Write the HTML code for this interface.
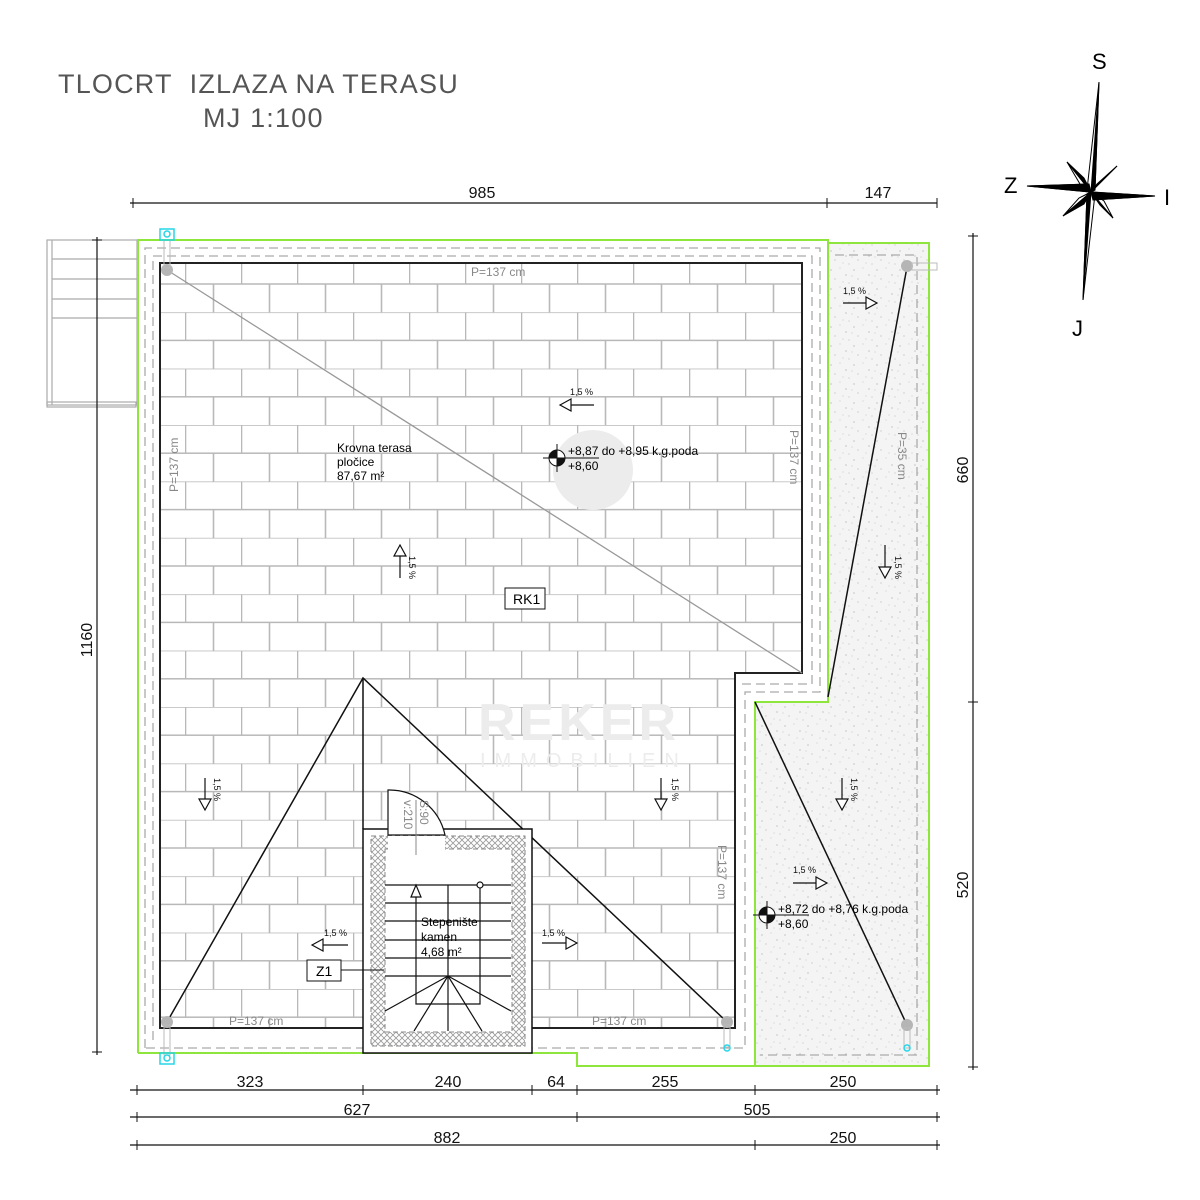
<!DOCTYPE html>
<html><head><meta charset="utf-8"><style>
html,body{margin:0;padding:0;background:#fff;}
svg{display:block;}
text{font-family:"Liberation Sans",sans-serif;}
</style></head><body>
<svg width="1200" height="1200" viewBox="0 0 1200 1200" xmlns="http://www.w3.org/2000/svg">
<defs>
<pattern id="tiles" x="185" y="255.8" width="56" height="56.4" patternUnits="userSpaceOnUse">
<rect width="56" height="56.4" fill="#fff"/>
<path d="M0 0H56M0 28.2H56M0.5 0V28.2M28.5 28.2V56.4" stroke="#b8b8b8" stroke-width="1.6" fill="none"/>
</pattern>
<pattern id="grav" x="0" y="0" width="23" height="19" patternUnits="userSpaceOnUse">
<rect width="23" height="19" fill="#f4f4f4"/>
<circle cx="3" cy="4" r="0.6" fill="#aaa"/><circle cx="12" cy="2" r="0.5" fill="#bbb"/>
<circle cx="18" cy="9" r="0.6" fill="#aaa"/><circle cx="7" cy="13" r="0.5" fill="#999"/>
<circle cx="15" cy="16" r="0.5" fill="#bbb"/><circle cx="21" cy="17" r="0.5" fill="#aaa"/>
<circle cx="1" cy="10" r="0.5" fill="#bbb"/>
</pattern>
<pattern id="hatch" width="6" height="6" patternUnits="userSpaceOnUse">
<rect width="6" height="6" fill="#fff"/>
<path d="M0 0L6 6M6 0L0 6" stroke="#999" stroke-width="0.8"/>
</pattern>
</defs>

<!-- title -->
<text x="58" y="93" font-size="27" fill="#555" letter-spacing="1.2" xml:space="preserve">TLOCRT  IZLAZA NA TERASU</text>
<text x="203" y="127" font-size="27" fill="#555" letter-spacing="1.2">MJ 1:100</text>

<!-- compass -->
<g stroke="#000" stroke-width="1">
<polygon points="1067,162 1091,192 1080,184" fill="#fff"/>
<polygon points="1067,162 1091,192 1084,178" fill="#000"/>
<polygon points="1117,166 1091,192 1102,181" fill="#fff"/>
<polygon points="1117,166 1091,192 1097,184" fill="#000"/>
<polygon points="1113,218 1091,192 1100,205" fill="#000"/>
<polygon points="1113,218 1091,192 1104,201" fill="#fff"/>
<polygon points="1063,216 1091,192 1079,198" fill="#fff"/>
<polygon points="1063,216 1091,192 1084,204" fill="#000"/>
<polygon points="1099,82 1095,190 1087,190" fill="#fff"/>
<polygon points="1099,82 1095,190 1091,192" fill="#000"/>
<polygon points="1083,300 1087,194 1095,194" fill="#fff"/>
<polygon points="1083,300 1087,194 1091,192" fill="#000"/>
<polygon points="1027,186 1089,184 1089,192" fill="#fff"/>
<polygon points="1027,186 1089,184 1091,192" fill="#000"/>
<polygon points="1155,196 1093,200 1093,192" fill="#fff"/>
<polygon points="1155,196 1093,200 1091,192" fill="#000"/>
</g>
<text x="1092" y="69" font-size="22">S</text>
<text x="1004" y="193" font-size="22">Z</text>
<text x="1164" y="205" font-size="22">I</text>
<text x="1072" y="336" font-size="22">J</text>

<!-- stair left outside -->
<g stroke="#aaa" stroke-width="1.2" fill="none">
<rect x="47" y="240" width="90" height="165"/>
<line x1="52" y1="240" x2="52" y2="405"/>
<line x1="52" y1="259" x2="137" y2="259"/>
<line x1="52" y1="279" x2="137" y2="279"/>
<line x1="52" y1="299" x2="137" y2="299"/>
<line x1="52" y1="318" x2="137" y2="318"/>
<rect x="47" y="402" width="89" height="5"/>
</g>

<!-- gravel strip -->
<polygon points="828,243 929,243 929,1066 755,1066 755,702 828,702" fill="url(#grav)"/>

<!-- tiles -->
<polygon points="160,263 802,263 802,673 735,673 735,1028 160,1028" fill="url(#tiles)" stroke="#222" stroke-width="2"/>

<!-- dashed outlines -->
<g stroke="#aaa" stroke-width="1.3" fill="none" stroke-dasharray="9,5">
<polyline points="145,1048 145,248 820,248 820,692 745,692 745,1048 145,1048"/>
<polyline points="153,1040 153,256 812,256 812,684 738,684"/>
<polyline points="835,255 917,255 917,1055 760,1055"/>
</g>

<!-- green outline -->
<g stroke="#8ee63c" stroke-width="2" fill="none">
<polyline points="138,1053 138,240 828,240 828,702 755,702 755,1066"/>
<polyline points="828,243 929,243 929,1066 577,1066 577,1053 138,1053"/>
</g>

<!-- diagonals -->
<line x1="167" y1="270" x2="802" y2="673" stroke="#999" stroke-width="1.3"/>
<polyline points="167,1022 363,678 727,1022" stroke="#111" stroke-width="1.5" fill="none"/>
<line x1="363" y1="678" x2="363" y2="829" stroke="#111" stroke-width="1.5"/>
<line x1="907" y1="267" x2="828" y2="697" stroke="#111" stroke-width="1.5"/>
<line x1="755" y1="702" x2="907" y2="1025" stroke="#111" stroke-width="1.5"/>

<!-- drains -->
<g fill="#b5b5b5">
<circle cx="167" cy="270" r="6"/><circle cx="907" cy="266" r="6"/>
<circle cx="167" cy="1022" r="6"/><circle cx="727" cy="1022" r="6"/><circle cx="907" cy="1025" r="6"/>
</g>
<g stroke="#bbb" fill="none" stroke-width="1">
<rect x="164" y="240" width="6" height="28"/><rect x="164" y="1025" width="6" height="30"/>
<rect x="912" y="263" width="25" height="7"/><rect x="724" y="1025" width="6" height="22"/><rect x="904" y="1028" width="6" height="20"/>
</g>
<g stroke="#25d5e8" stroke-width="1.5" fill="none">
<rect x="160" y="229" width="14" height="11"/><circle cx="167" cy="234" r="3"/>
<rect x="160" y="1053" width="14" height="11"/><circle cx="167" cy="1058" r="3"/>
<circle cx="727" cy="1048" r="3"/><circle cx="907" cy="1048" r="3"/>
</g>

<!-- stair -->
<rect x="363" y="829" width="169" height="224" fill="#fff" stroke="#111" stroke-width="1.5"/>
<rect x="371" y="836" width="154" height="210" fill="url(#hatch)" stroke="#888" stroke-dasharray="5,3"/>
<rect x="385" y="849" width="127" height="183" fill="#fff" stroke="#888" stroke-dasharray="5,3"/>
<rect x="388" y="836" width="57" height="14" fill="#fff"/>
<path d="M388 835V790A57 57 0 0 1 445 835Z" fill="#fff" stroke="#111" stroke-width="1.2"/>
<line x1="416" y1="800" x2="416" y2="855" stroke="#888"/>
<text transform="translate(420,800) rotate(90)" font-size="12" fill="#888">S:90</text>
<text transform="translate(404,800) rotate(90)" font-size="12" fill="#888">v:210</text>
<g stroke="#111" stroke-width="1.2" fill="none">
<line x1="385" y1="885" x2="511" y2="885"/><line x1="385" y1="903" x2="511" y2="903"/>
<line x1="385" y1="921" x2="511" y2="921"/><line x1="385" y1="940" x2="511" y2="940"/>
<line x1="385" y1="958" x2="511" y2="958"/><line x1="385" y1="976" x2="511" y2="976"/>
<line x1="448" y1="885" x2="448" y2="1031"/>
<polyline points="416,890 416,1004 480,1004 480,885"/>
<line x1="448" y1="976" x2="385" y2="1011"/><line x1="448" y1="976" x2="414" y2="1031"/>
<line x1="448" y1="976" x2="482" y2="1031"/><line x1="448" y1="976" x2="511" y2="1011"/>
<polygon points="411,897 416,885 421,897" fill="#fff"/>
<circle cx="480" cy="885" r="3" fill="#fff"/>
</g>
<text x="421" y="926" font-size="12">Stepenište</text>
<text x="421" y="941" font-size="12">kamen</text>
<text x="421" y="956" font-size="12">4,68 m²</text>
<rect x="307" y="960" width="34" height="21" fill="#fff" stroke="#111"/>
<text x="316" y="976" font-size="14">Z1</text>
<line x1="341" y1="970" x2="384" y2="970" stroke="#111"/>

<!-- slope arrows -->
<g stroke="#111" stroke-width="1.2" fill="#fff">
<line x1="560" y1="405" x2="594" y2="405"/><polygon points="560,405 571,399 571,411"/>
<line x1="400" y1="578" x2="400" y2="545"/><polygon points="400,545 394,556 406,556"/>
<line x1="205" y1="778" x2="205" y2="810"/><polygon points="205,810 199,799 211,799"/>
<line x1="661" y1="778" x2="661" y2="810"/><polygon points="661,810 655,799 667,799"/>
<line x1="312" y1="945" x2="348" y2="945"/><polygon points="312,945 323,939 323,951"/>
<line x1="542" y1="943" x2="577" y2="943"/><polygon points="577,943 566,937 566,949"/>
<line x1="843" y1="303" x2="877" y2="303"/><polygon points="877,303 866,297 866,309"/>
<line x1="885" y1="545" x2="885" y2="578"/><polygon points="885,578 879,567 891,567"/>
<line x1="842" y1="778" x2="842" y2="810"/><polygon points="842,810 836,799 848,799"/>
<line x1="793" y1="883" x2="827" y2="883"/><polygon points="827,883 816,877 816,889"/>
</g>
<g font-size="9" fill="#111">
<text x="570" y="395">1,5 %</text>
<text transform="translate(409,556) rotate(90)">1,5 %</text>
<text transform="translate(214,778) rotate(90)">1,5 %</text>
<text transform="translate(672,778) rotate(90)">1,5 %</text>
<text x="324" y="936">1,5 %</text>
<text x="542" y="936">1,5 %</text>
<text x="843" y="294">1,5 %</text>
<text transform="translate(895,556) rotate(90)">1,5 %</text>
<text transform="translate(851,778) rotate(90)">1,5 %</text>
<text x="793" y="873">1,5 %</text>
</g>

<!-- watermark -->
<g>
<circle cx="593" cy="470" r="40" fill="#ececec"/>
<text x="478" y="740" font-size="52" font-weight="bold" fill="#ececec" letter-spacing="4">REKER</text>
<text x="480" y="767" font-size="20" fill="#ececec" letter-spacing="9">IMMOBILIEN</text>
</g>

<!-- labels -->
<text x="337" y="452" font-size="12">Krovna terasa</text>
<text x="337" y="466" font-size="12">pločice</text>
<text x="337" y="480" font-size="12">87,67 m²</text>
<rect x="505" y="588" width="40" height="21" fill="#fff" stroke="#111"/>
<text x="513" y="604" font-size="14">RK1</text>
<circle cx="557" cy="458" r="8" fill="#fff" stroke="#111"/>
<path d="M557 450A8 8 0 0 0 549 458H557Z M557 458H565A8 8 0 0 1 557 466Z" fill="#111"/>
<line x1="543" y1="458" x2="599" y2="458" stroke="#111"/><line x1="557" y1="444" x2="557" y2="472" stroke="#111"/>
<text x="568" y="455" font-size="12">+8,87 do +8,95 k.g.poda</text>
<text x="568" y="470" font-size="12">+8,60</text>
<circle cx="767" cy="915" r="8" fill="#fff" stroke="#111"/>
<path d="M767 907A8 8 0 0 0 759 915H767Z M767 915H775A8 8 0 0 1 767 923Z" fill="#111"/>
<line x1="753" y1="915" x2="809" y2="915" stroke="#111"/><line x1="767" y1="901" x2="767" y2="929" stroke="#111"/>
<text x="778" y="913" font-size="12">+8,72 do +8,76 k.g.poda</text>
<text x="778" y="928" font-size="12">+8,60</text>

<!-- P labels -->
<g fill="#888" font-size="12">
<text x="471" y="276">P=137 cm</text>
<text x="229" y="1025">P=137 cm</text>
<text x="592" y="1025">P=137 cm</text>
<text transform="translate(178,492) rotate(-90)">P=137 cm</text>
<text transform="translate(790,430) rotate(90)">P=137 cm</text>
<text transform="translate(718,845) rotate(90)">P=137 cm</text>
<text transform="translate(898,432) rotate(90)">P=35 cm</text>
</g>

<!-- dimensions -->
<g stroke="#111" stroke-width="1.2">
<line x1="130" y1="203" x2="937" y2="203"/>
<line x1="973" y1="233" x2="973" y2="1070"/>
<line x1="97" y1="237" x2="97" y2="1055"/>
<line x1="130" y1="1090" x2="940" y2="1090"/>
<line x1="130" y1="1117" x2="940" y2="1117"/>
<line x1="130" y1="1145" x2="940" y2="1145"/>
<g stroke-width="1">
<path d="M133 198V208M827 198V208M937 198V208"/>
<path d="M968 236H978M968 702H978M968 1067H978"/>
<path d="M92 240H102M92 1052H102"/>
<path d="M137 1085V1095M363 1085V1095M532 1085V1095M577 1085V1095M755 1085V1095M937 1085V1095"/>
<path d="M137 1112V1122M577 1112V1122M937 1112V1122"/>
<path d="M137 1140V1150M755 1140V1150M937 1140V1150"/>
</g>
</g>
<g font-size="16" fill="#111" text-anchor="middle">
<text x="482" y="198">985</text>
<text x="878" y="198">147</text>
<text transform="translate(968,470) rotate(-90)">660</text>
<text transform="translate(968,885) rotate(-90)">520</text>
<text transform="translate(92,640) rotate(-90)">1160</text>
<text x="250" y="1087">323</text><text x="448" y="1087">240</text><text x="556" y="1087">64</text>
<text x="665" y="1087">255</text><text x="843" y="1087">250</text>
<text x="357" y="1115">627</text><text x="757" y="1115">505</text>
<text x="447" y="1143">882</text><text x="843" y="1143">250</text>
</g>
</svg>
</body></html>
